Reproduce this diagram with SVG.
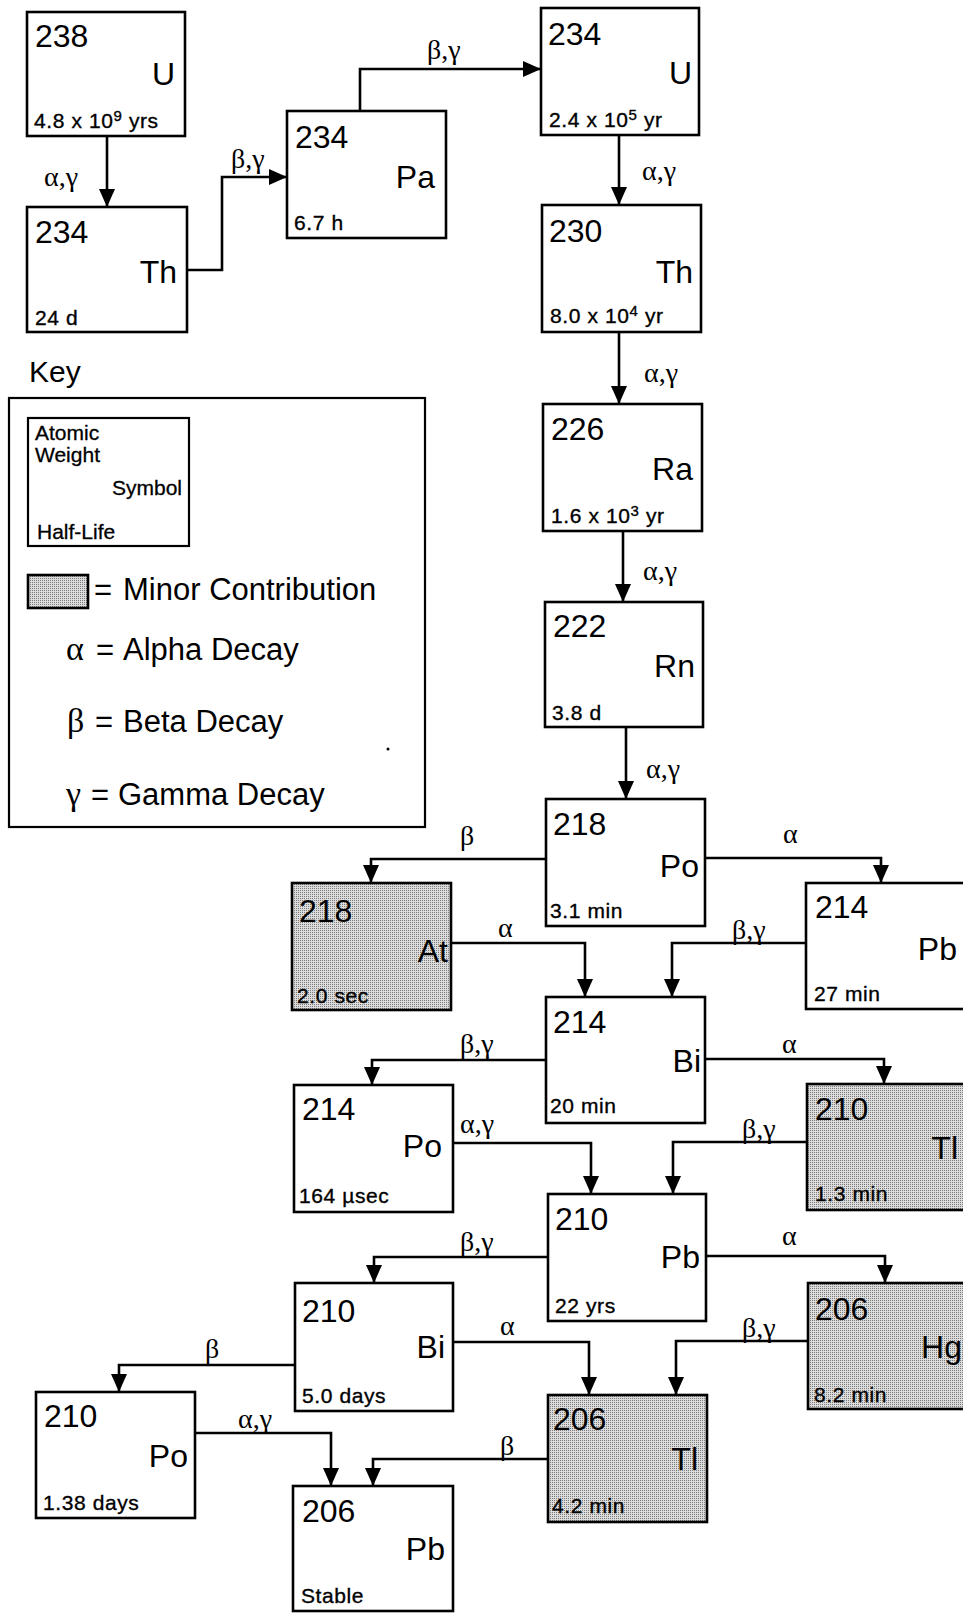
<svg xmlns="http://www.w3.org/2000/svg" width="963" height="1613" viewBox="0 0 963 1613">
<style>
.box{fill:#fff;stroke:#000;stroke-width:2.6}
.minor{fill:url(#stip)}
text{font-family:"Liberation Sans",Arial,sans-serif;fill:#000}
.num{font-size:32px}
.sym{font-size:32px;text-anchor:end}
.hl{font-size:21px;letter-spacing:0.6px;stroke:#000;stroke-width:0.35px}
.sup{font-size:15px}
.lbl{font-family:"Liberation Serif","Times New Roman",serif;font-size:28px}
.conn{fill:none;stroke:#000;stroke-width:2.6;marker-end:url(#arr)}
.key{font-size:31px}
.keyg{font-family:"Liberation Serif","Times New Roman",serif;font-size:34px}
.small{font-size:21px;stroke:#000;stroke-width:0.3px}
</style>
<defs>
<pattern id="stip" width="2" height="2" patternUnits="userSpaceOnUse">
<rect width="2" height="2" fill="#dcdcdc"/>
<rect width="1" height="1" fill="#7a7a7a"/>
</pattern>
<marker id="arr" markerUnits="userSpaceOnUse" markerWidth="18" markerHeight="16" refX="18" refY="8" orient="auto" viewBox="0 0 18 16">
<path d="M0,0 L18,8 L0,16 z" fill="#000"/>
</marker>
</defs>

<g id="connectors">
<polyline class="conn" points="107,136 107,207"/>
<polyline class="conn" points="187,270 222,270 222,177 287,177"/>
<polyline class="conn" points="360,111 360,69 541,69"/>
<polyline class="conn" points="619,135 619,205"/>
<polyline class="conn" points="619,332 619,404"/>
<polyline class="conn" points="623,531 623,602"/>
<polyline class="conn" points="626,727 626,799"/>
<polyline class="conn" points="546,859 371,859 371,883"/>
<polyline class="conn" points="705,858 881,858 881,883"/>
<polyline class="conn" points="451,943 585,943 585,997"/>
<polyline class="conn" points="806,943 672,943 672,997"/>
<polyline class="conn" points="546,1060 372,1060 372,1085"/>
<polyline class="conn" points="705,1059 884,1059 884,1084"/>
<polyline class="conn" points="453,1143 591,1143 591,1194"/>
<polyline class="conn" points="807,1142 673,1142 673,1194"/>
<polyline class="conn" points="548,1257 374,1257 374,1283"/>
<polyline class="conn" points="706,1256 885,1256 885,1283"/>
<polyline class="conn" points="453,1342 589,1342 589,1395"/>
<polyline class="conn" points="808,1341 676,1341 676,1395"/>
<polyline class="conn" points="295,1365 119,1365 119,1392"/>
<polyline class="conn" points="195,1433 331,1433 331,1486"/>
<polyline class="conn" points="548,1459 373,1459 373,1486"/>
<text class="lbl" x="44" y="186">α,γ</text>
<text class="lbl" x="231" y="168">β,γ</text>
<text class="lbl" x="427" y="59">β,γ</text>
<text class="lbl" x="642" y="180">α,γ</text>
<text class="lbl" x="644" y="382">α,γ</text>
<text class="lbl" x="643" y="580">α,γ</text>
<text class="lbl" x="646" y="778">α,γ</text>
<text class="lbl" x="460" y="845">β</text>
<text class="lbl" x="783" y="843">α</text>
<text class="lbl" x="498" y="937">α</text>
<text class="lbl" x="732" y="939">β,γ</text>
<text class="lbl" x="460" y="1053">β,γ</text>
<text class="lbl" x="782" y="1053">α</text>
<text class="lbl" x="460" y="1133">α,γ</text>
<text class="lbl" x="742" y="1138">β,γ</text>
<text class="lbl" x="460" y="1251">β,γ</text>
<text class="lbl" x="782" y="1245">α</text>
<text class="lbl" x="500" y="1335">α</text>
<text class="lbl" x="742" y="1337">β,γ</text>
<text class="lbl" x="205" y="1358">β</text>
<text class="lbl" x="238" y="1428">α,γ</text>
<text class="lbl" x="500" y="1455">β</text>
</g>

<g id="U238">
<rect class="box" x="27" y="12" width="158" height="124"/>
<text class="num" x="35" y="47">238</text>
<text class="sym" x="175" y="85">U</text>
<text class="hl" x="34" y="128">4.8 x 10<tspan class="sup" dy="-7">9</tspan><tspan dy="7"> yrs</tspan></text>
</g>
<g id="Th234">
<rect class="box" x="27" y="207" width="160" height="125"/>
<text class="num" x="35" y="243">234</text>
<text class="sym" x="177" y="283">Th</text>
<text class="hl" x="35" y="325">24 d</text>
</g>
<g id="Pa234">
<rect class="box" x="287" y="111" width="159" height="127"/>
<text class="num" x="295" y="148">234</text>
<text class="sym" x="435" y="188">Pa</text>
<text class="hl" x="294" y="230">6.7 h</text>
</g>
<g id="U234">
<rect class="box" x="541" y="8" width="158" height="127"/>
<text class="num" x="548" y="45">234</text>
<text class="sym" x="692" y="84">U</text>
<text class="hl" x="549" y="127">2.4 x 10<tspan class="sup" dy="-7">5</tspan><tspan dy="7"> yr</tspan></text>
</g>
<g id="Th230">
<rect class="box" x="542" y="205" width="159" height="127"/>
<text class="num" x="549" y="242">230</text>
<text class="sym" x="693" y="283">Th</text>
<text class="hl" x="550" y="323">8.0 x 10<tspan class="sup" dy="-7">4</tspan><tspan dy="7"> yr</tspan></text>
</g>
<g id="Ra226">
<rect class="box" x="543" y="404" width="159" height="127"/>
<text class="num" x="551" y="440">226</text>
<text class="sym" x="693" y="480">Ra</text>
<text class="hl" x="551" y="523">1.6 x 10<tspan class="sup" dy="-7">3</tspan><tspan dy="7"> yr</tspan></text>
</g>
<g id="Rn222">
<rect class="box" x="545" y="602" width="158" height="125"/>
<text class="num" x="553" y="637">222</text>
<text class="sym" x="695" y="677">Rn</text>
<text class="hl" x="552" y="720">3.8 d</text>
</g>
<g id="Po218">
<rect class="box" x="546" y="799" width="159" height="127"/>
<text class="num" x="553" y="835">218</text>
<text class="sym" x="699" y="877">Po</text>
<text class="hl" x="550" y="918">3.1 min</text>
</g>
<g id="At218">
<rect class="box minor" x="292" y="883" width="159" height="127"/>
<text class="num" x="299" y="922">218</text>
<text class="sym" x="448" y="962">At</text>
<text class="hl" x="297" y="1003">2.0 sec</text>
</g>
<g id="Pb214">
<rect class="box" x="806" y="883" width="159" height="126"/>
<text class="num" x="815" y="918">214</text>
<text class="sym" x="957" y="960">Pb</text>
<text class="hl" x="814" y="1001">27 min</text>
</g>
<g id="Bi214">
<rect class="box" x="546" y="997" width="159" height="126"/>
<text class="num" x="553" y="1033">214</text>
<text class="sym" x="701" y="1072">Bi</text>
<text class="hl" x="550" y="1113">20 min</text>
</g>
<g id="Po214">
<rect class="box" x="294" y="1085" width="159" height="127"/>
<text class="num" x="302" y="1120">214</text>
<text class="sym" x="442" y="1157">Po</text>
<text class="hl" x="299" y="1203">164 µsec</text>
</g>
<g id="Tl210">
<rect class="box minor" x="807" y="1084" width="159" height="126"/>
<text class="num" x="815" y="1120">210</text>
<text class="sym" x="958" y="1159">Tl</text>
<text class="hl" x="815" y="1201">1.3 min</text>
</g>
<g id="Pb210">
<rect class="box" x="548" y="1194" width="158" height="127"/>
<text class="num" x="555" y="1230">210</text>
<text class="sym" x="700" y="1268">Pb</text>
<text class="hl" x="555" y="1313">22 yrs</text>
</g>
<g id="Bi210">
<rect class="box" x="295" y="1283" width="158" height="128"/>
<text class="num" x="302" y="1322">210</text>
<text class="sym" x="445" y="1358">Bi</text>
<text class="hl" x="302" y="1403">5.0 days</text>
</g>
<g id="Hg206">
<rect class="box minor" x="808" y="1283" width="159" height="126"/>
<text class="num" x="815" y="1320">206</text>
<text class="sym" x="962" y="1358">Hg</text>
<text class="hl" x="814" y="1402">8.2 min</text>
</g>
<g id="Po210">
<rect class="box" x="36" y="1392" width="159" height="126"/>
<text class="num" x="44" y="1427">210</text>
<text class="sym" x="188" y="1467">Po</text>
<text class="hl" x="43" y="1510">1.38 days</text>
</g>
<g id="Tl206">
<rect class="box minor" x="548" y="1395" width="159" height="127"/>
<text class="num" x="553" y="1430">206</text>
<text class="sym" x="698" y="1470">Tl</text>
<text class="hl" x="552" y="1513">4.2 min</text>
</g>
<g id="Pb206">
<rect class="box" x="293" y="1486" width="160" height="125"/>
<text class="num" x="302" y="1522">206</text>
<text class="sym" x="445" y="1560">Pb</text>
<text class="hl" x="301" y="1603">Stable</text>
</g>

<g id="key">
<text x="29" y="382" font-size="30">Key</text>
<rect x="9" y="398" width="416" height="429" fill="#fff" stroke="#000" stroke-width="2.2"/>
<rect x="28" y="418" width="161" height="128" fill="#fff" stroke="#000" stroke-width="2.2"/>
<text class="small" x="35" y="440">Atomic</text>
<text class="small" x="35" y="462">Weight</text>
<text class="small" x="182" y="495" text-anchor="end">Symbol</text>
<text class="small" x="37" y="539">Half-Life</text>
<rect class="minor" x="28" y="575" width="60" height="33" stroke="#000" stroke-width="2.6"/>
<text class="key" x="94" y="600">=</text>
<text class="key" x="123" y="600">Minor Contribution</text>
<text class="keyg" x="66" y="660">α</text>
<text class="key" x="96" y="660">=</text>
<text class="key" x="123" y="660">Alpha Decay</text>
<text class="keyg" x="67" y="732">β</text>
<text class="key" x="95" y="732">=</text>
<text class="key" x="123" y="732">Beta Decay</text>
<text class="keyg" x="66" y="805">γ</text>
<text class="key" x="91" y="805">=</text>
<text class="key" x="118" y="805">Gamma Decay</text>
<circle cx="388" cy="749" r="1.5" fill="#000"/>
</g>
</svg>
